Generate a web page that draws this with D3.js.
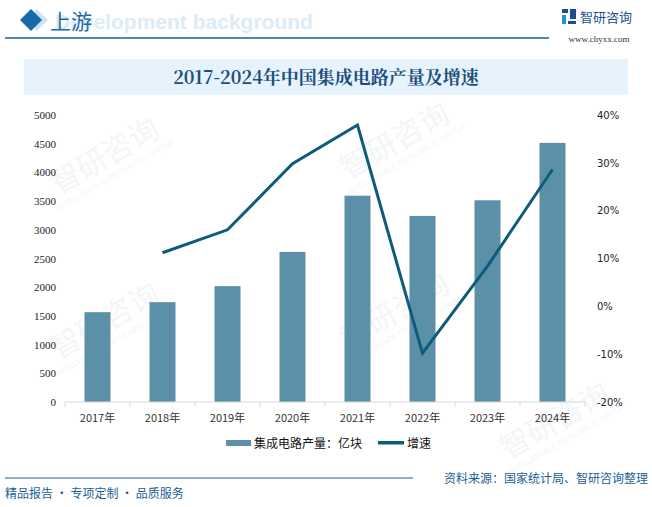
<!DOCTYPE html>
<html>
<head>
<meta charset="utf-8">
<script src="https://cdn.jsdelivr.net/npm/d3@7"></script>
<style>
  body { margin: 0; background: #fff; }
  svg { display: block; }
</style>
</head>
<body>
<svg id="chart"></svg>
<script>
const size = { w: 652, h: 507 };

// chart data
const years = ["2017年", "2018年", "2019年", "2020年", "2021年", "2022年", "2023年", "2024年"];
const output = [1564.9, 1739.5, 2018.2, 2614.7, 3594.3, 3241.9, 3514.4, 4514.2];
const growth = [null, 11.2, 16.0, 29.8, 37.9, -9.8, 8.4, 28.6];
const leftTicks = [0, 500, 1000, 1500, 2000, 2500, 3000, 3500, 4000, 4500, 5000];
const rightTicks = [-20, -10, 0, 10, 20, 30, 40];

const barColor = "#5b90a8";
const lineColor = "#0e5c7c";
const cjk = "'Noto Sans CJK SC', 'Noto Sans', sans-serif";

const svg = d3.select("#chart").attr("width", size.w).attr("height", size.h);

// faint watermarks
const wm = svg.append("g").attr("fill", "#f3f6f9");
[[110, 165], [400, 150], [110, 330], [400, 320], [560, 430]].forEach(([x, y]) => {
	const g = wm.append("g").attr("transform", `translate(${x},${y}) rotate(-30)`);
	g.append("text").attr("font-family", cjk).attr("font-size", 30)
		.attr("text-anchor", "middle").text("智研咨询");
	g.append("text").attr("y", 14).attr("font-family", "Liberation Sans").attr("font-size", 8)
		.attr("text-anchor", "middle").text("INTELLIGENCE RESEARCH GROUP");
});

// header
svg.append("text").attr("x", 55).attr("y", 29)
	.attr("font-family", "Liberation Sans, Arial").attr("font-weight", "bold")
	.attr("font-size", 21).attr("fill", "#dcebf6").text("Development background");
svg.append("path").attr("d", "M31,9 L42,20 L31,31 L20,20 Z").attr("fill", "#cfe3f2").attr("transform", "translate(6,0)");
svg.append("path").attr("d", "M31,9 L42,20 L31,31 L20,20 Z").attr("fill", "#1769aa");
svg.append("text").attr("x", 50).attr("y", 29)
	.attr("font-family", cjk).attr("font-size", 21).attr("fill", "#1a6aa6").text("上游");
svg.append("line").attr("x1", 5).attr("x2", 549).attr("y1", 38).attr("y2", 38)
	.attr("stroke", "#1a5f96").attr("stroke-width", 1.5);

// logo
const logo = svg.append("g").attr("transform", "translate(562,9)");
logo.append("rect").attr("x", 0).attr("y", 0).attr("width", 6).attr("height", 4).attr("fill", "#1a4f8c");
logo.append("rect").attr("x", 8).attr("y", 0).attr("width", 6).attr("height", 10).attr("fill", "#1a4f8c");
logo.append("rect").attr("x", 0).attr("y", 6).attr("width", 4).attr("height", 9).attr("fill", "#2b8fd6");
logo.append("rect").attr("x", 6).attr("y", 12).attr("width", 8).attr("height", 3).attr("fill", "#1a4f8c");
svg.append("text").attr("x", 580).attr("y", 22).attr("font-family", cjk)
	.attr("font-size", 13).attr("fill", "#1a4f8c").text("智研咨询");
svg.append("text").attr("x", 599).attr("y", 42).attr("text-anchor", "middle")
	.attr("font-family", "Liberation Serif").attr("font-size", 9).attr("fill", "#333")
	.text("www.chyxx.com");

// title box
svg.append("rect").attr("x", 24).attr("y", 59).attr("width", 604).attr("height", 36).attr("fill", "#e6f3fc");
svg.append("text").attr("x", 326).attr("y", 84).attr("text-anchor", "middle")
	.attr("font-family", "'Noto Serif CJK SC', 'Liberation Serif', serif").attr("font-size", 18)
	.attr("font-weight", "bold").attr("fill", "#1b4f7c").text("2017-2024年中国集成电路产量及增速");

// scales
const x = d3.scaleBand().domain(years).range([65, 585]).paddingInner(0.6).paddingOuter(0.3);
const yL = d3.scaleLinear().domain([0, 5000]).range([402, 115]);
const yR = d3.scaleLinear().domain([-20, 40]).range([402, 115]);

// bars
svg.append("g").selectAll("rect").data(output).join("rect")
	.attr("x", (d, i) => x(years[i]))
	.attr("y", d => yL(d))
	.attr("width", x.bandwidth())
	.attr("height", d => yL(0) - yL(d))
	.attr("fill", barColor);

// x axis
const xAxis = svg.append("g").attr("transform", "translate(0,402)");
xAxis.append("line").attr("x1", 65).attr("x2", 585).attr("stroke", "#d9d9d9");
const bounds = d3.range(years.length + 1).map(i => 65 + i * 520 / years.length);
xAxis.selectAll("line.tick").data(bounds).join("line").attr("class", "tick")
	.attr("x1", d => d).attr("x2", d => d).attr("y1", 0).attr("y2", 5).attr("stroke", "#d9d9d9");
xAxis.selectAll("text").data(years).join("text")
	.attr("x", d => x(d) + x.bandwidth() / 2).attr("y", 20)
	.attr("text-anchor", "middle").attr("font-family", cjk).attr("font-size", 11)
	.attr("fill", "#333").text(d => d);

// left axis
svg.append("g").attr("transform", "translate(56,0)")
	.call(d3.axisLeft(yL).tickValues(leftTicks).tickSize(0).tickPadding(0).tickFormat(d3.format("d")))
	.call(g => g.select(".domain").remove())
	.call(g => g.selectAll("text").attr("font-family", "Liberation Serif").attr("font-size", 11).attr("fill", "#222"));

// right axis
svg.append("g").attr("transform", "translate(597,0)")
	.call(d3.axisRight(yR).tickValues(rightTicks).tickSize(0).tickPadding(0).tickFormat(d => d + "%"))
	.call(g => g.select(".domain").remove())
	.call(g => g.selectAll("text").attr("font-family", "DejaVu Sans").attr("font-size", 10).attr("fill", "#222"));

// growth line
const lineFn = d3.line()
	.defined(d => d[1] !== null)
	.x(d => x(d[0]) + x.bandwidth() / 2)
	.y(d => yR(d[1]));
svg.append("path").datum(years.map((y, i) => [y, growth[i]]))
	.attr("d", lineFn).attr("fill", "none").attr("stroke", lineColor).attr("stroke-width", 3);

// legend
const legend = svg.append("g").attr("font-family", cjk).attr("font-size", 12).attr("fill", "#111");
legend.append("rect").attr("x", 226).attr("y", 440).attr("width", 25).attr("height", 6).attr("fill", barColor);
legend.append("text").attr("x", 254).attr("y", 448).text("集成电路产量：亿块");
legend.append("rect").attr("x", 378).attr("y", 441).attr("width", 26).attr("height", 3.5).attr("fill", lineColor);
legend.append("text").attr("x", 407).attr("y", 448).text("增速");

// footer
svg.append("line").attr("x1", 5).attr("x2", 413).attr("y1", 478).attr("y2", 478)
	.attr("stroke", "#1a5f96").attr("stroke-width", 1.2);
svg.append("text").attr("x", 5).attr("y", 498).attr("font-family", cjk).attr("font-size", 12)
	.attr("fill", "#1a5f96").text("精品报告 · 专项定制 · 品质服务");
svg.append("text").attr("x", 648).attr("y", 483).attr("text-anchor", "end").attr("font-family", cjk)
	.attr("font-size", 12).attr("fill", "#1a5f96").text("资料来源：国家统计局、智研咨询整理");
</script>
</body>
</html>
